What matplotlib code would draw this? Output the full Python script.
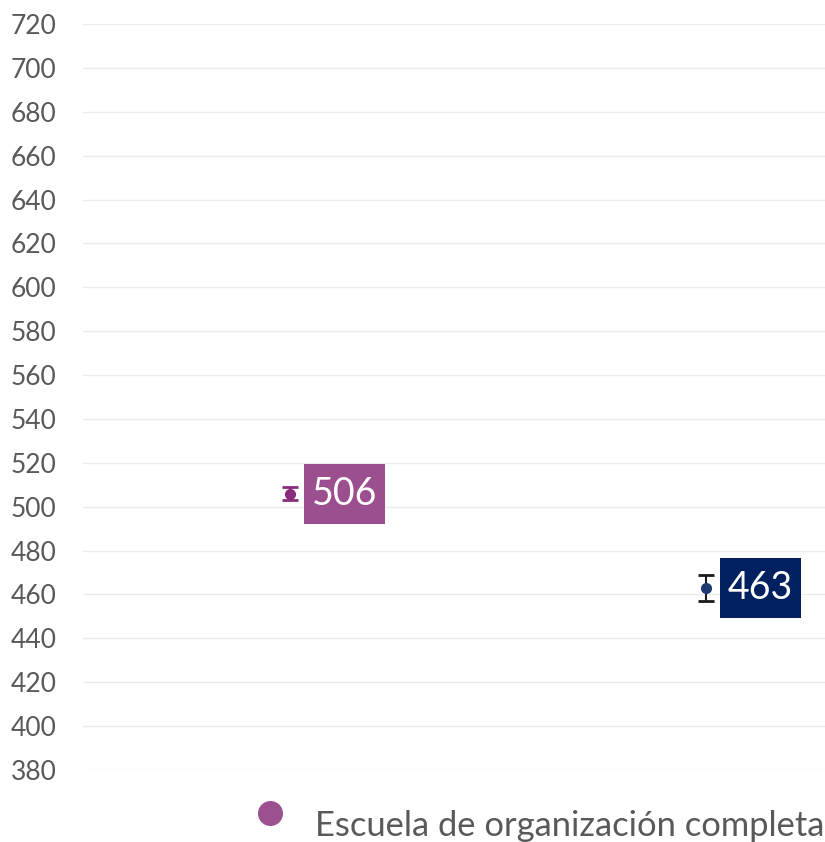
import numpy as np
import matplotlib; matplotlib.use('Agg')
import matplotlib.pyplot as plt
from matplotlib.lines import Line2D
from matplotlib.patches import Rectangle
from matplotlib.transforms import IdentityTransform

plt.rcParams['font.family'] = ['Lato', 'DejaVu Sans']

# data
groups = ['Escuela de organización completa', 'Otra']
means = [506, 463]
errs = [3, 6]
box_colors = ['#9B4F8E', '#002060']
dot_colors = ['#8A2C7B', '#1F3A70']
yticks = list(range(380, 721, 20))

fig = plt.figure(figsize=(8.25, 8.42), dpi=100)
ax = fig.add_axes([83/825, 1-770/842, 742/825, 746/842])
ax.set_xlim(-0.498, 1.286)
ax.set_ylim(380, 720)

xs = [0, 1]
for x, m, e, bc, dc in zip(xs, means, errs, box_colors, dot_colors):
    ax.errorbar(x, m, yerr=e, fmt='o', color=dc, ecolor='#1a1a1a' if x else dc,
                elinewidth=1.5, capsize=6, capthick=2, markersize=7, zorder=3)
    px, py = ax.transData.transform((x, m))
    fig.add_artist(Rectangle((px + 14, py - 30), 81, 60, transform=IdentityTransform(),
                             fc=bc, ec='none', zorder=4))
    fig.text(px + 14 + 40.5, py, str(m), transform=IdentityTransform(),
             ha='center', va='center', fontsize=27, color='white', zorder=5)

ax.set_yticks(yticks)
ax.set_xticks([])
ax.grid(axis='y', color='#ebebeb', lw=1)
ax.set_axisbelow(True)
for s in ax.spines.values():
    s.set_visible(False)
ax.tick_params(axis='y', length=0, pad=19, labelsize=19, labelcolor='#595959')

# legend
fig.add_artist(Line2D([270/825], [1-813/842], marker='o', ls='', color='#9C5090',
                      markersize=17, transform=fig.transFigure))
fig.text(315/825, 1-826/842, groups[0], ha='left', va='center', fontsize=24.8,
         color='#595959')

fig.savefig('out.png', dpi=100)
